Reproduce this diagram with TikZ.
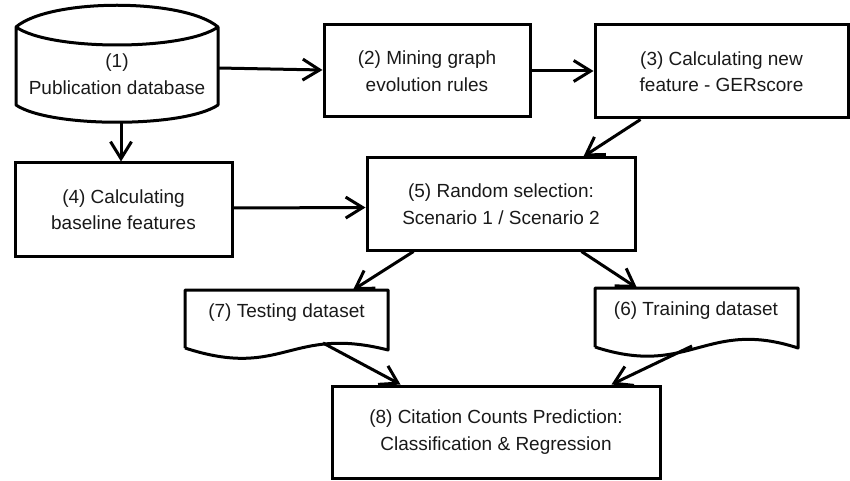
\documentclass[tikz,border=0pt]{standalone}
\usepackage{fontspec}
\setmainfont{Liberation Sans}
\usetikzlibrary{arrows.meta,calc}
\begin{document}
\begin{tikzpicture}[x=1pt,y=-1pt,
  txt/.style={font=\fontsize{19}{26.5}\selectfont, align=center, inner sep=0pt, text=black!90},
  stepbox/.style={txt, draw, line width=3pt, minimum width=#1},
  outline/.style={draw, line width=3pt, line join=round},
  conn/.style={line width=3pt, -{Straight Barb[length=17pt,width=21pt]}}
]
\useasboundingbox (0,0) rectangle (850,481);

% (1) database
\draw[outline] (16,27) .. controls (50,-2) and (184,-2) .. (218,27)
  .. controls (184,51) and (50,51) .. (16,27) -- (16,105)
  .. controls (50,128) and (184,128) .. (218,105) -- (218,27);
\node[txt, minimum width=202pt] (n1) at (117,74) {(1)\\Publication database};
\coordinate (n1bot) at (121,122);

% rectangles
\node[stepbox=206pt, minimum height=92pt] (n2) at (427,71) {(2) Mining graph\\evolution rules};
\node[stepbox=253pt, minimum height=93pt] (n3) at (721.5,71.5) {(3) Calculating new\\feature - GERscore};
\node[stepbox=217pt, minimum height=93pt] (n4) at (123.5,209.5) {(4) Calculating\\baseline features};
\node[stepbox=268pt, minimum height=92pt] (n5) at (501,204) {(5) Random selection:\\Scenario 1 / Scenario 2};
\node[stepbox=328pt, minimum height=92pt] (n8) at (496,432) {(8) Citation Counts Prediction:\\Classification \& Regression};

% (7) testing dataset (document shape)
\draw[outline] (185,348) -- (185,290) -- (388,290) -- (388,350)
  .. controls (290,325) and (283,380) .. (185,348);
\node[txt] (n7) at (286.5,313) {(7) Testing dataset};
\coordinate (n7top) at (353,290);
\coordinate (n7bot) at (323,343);

% (6) training dataset (document shape)
\draw[outline] (595,347) -- (595,288) -- (798,288) -- (798,348)
  .. controls (706,318) and (690,378) .. (595,347);
\node[txt] (n6) at (696,311) {(6) Training dataset};
\coordinate (n6top) at (637,288);
\coordinate (n6bot) at (692,346);

% connectors
\draw[conn] ([yshift=6pt]n1.east) -- ([yshift=1pt]n2.west);
\draw[conn] (n2.east) -- (n2.east -| n3.west);
\draw[conn] (n1bot) -- ([xshift=-2.5pt]n4.north);
\draw[conn] ([xshift=47pt]n3.south west) -- ([xshift=-53pt]n5.north east);
\draw[conn] ([yshift=1.5pt]n4.east) -- ([yshift=-3.5pt]n5.west);
\draw[conn] ([xshift=48pt]n5.south west) -- (n7top);
\draw[conn] ([xshift=-55pt]n5.south east) -- (n6top);
\draw[conn] (n7bot) -- ([xshift=70pt]n8.north west);
\draw[conn] (n6bot) -- ([xshift=-50pt]n8.north east);
\end{tikzpicture}
\end{document}
